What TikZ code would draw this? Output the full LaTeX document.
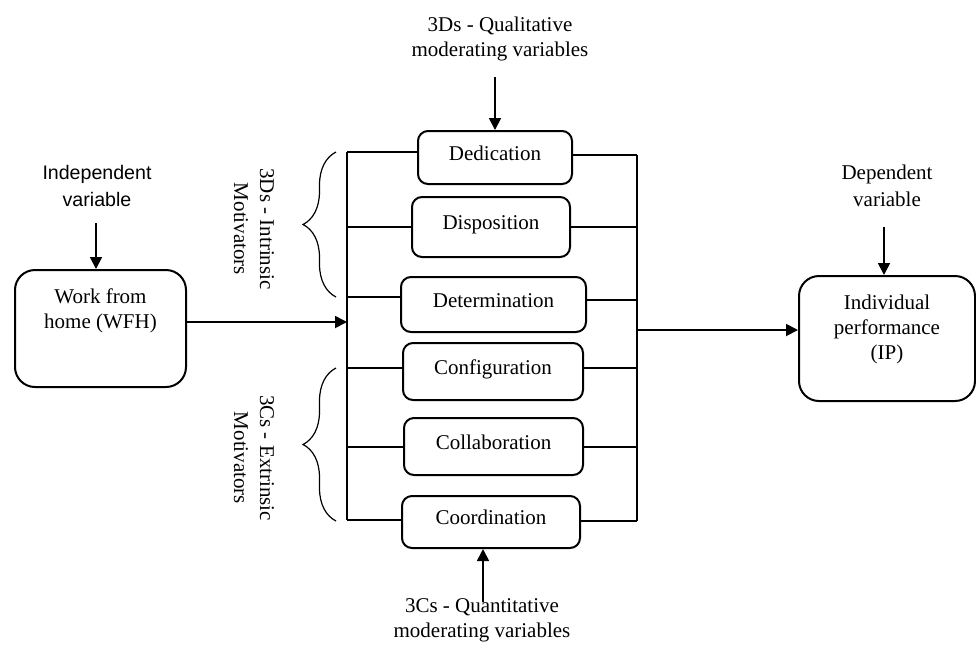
\documentclass[tikz,border=0pt]{standalone}
\usepackage{fontspec}
\setmainfont{Liberation Serif}
\newfontfamily\arialfont{Liberation Sans}
\usetikzlibrary{arrows.meta,decorations.pathreplacing}
\tikzset{
  box/.style={draw,line width=1pt,rounded corners=5pt,inner sep=0pt,
    text height=7.2pt,text depth=4.5pt,font=\fontsize{10.5}{12.6}\selectfont},
  bigbox/.style={draw,line width=1pt,rounded corners=10pt,inner sep=0pt},
  txt/.style={align=center,inner sep=0pt,font=\fontsize{10.5}{12.5}\selectfont},
  sidetxt/.style={align=center,inner sep=0pt,rotate=-90,font=\fontsize{10.5}{13}\selectfont},
  conn/.style={line width=0.9pt},
  arr/.style={line width=0.9pt,-{Triangle[length=6pt,width=6pt]}},
  brc/.style={line width=0.6pt,decorate,decoration={brace,amplitude=16.5pt}},
}
\begin{document}
\begin{tikzpicture}[x=0.5pt,y=-0.5pt]
\useasboundingbox (0,0) rectangle (976,645);

% central boxes
\node[box,minimum width=77pt,minimum height=26.5pt] (ded) at (495,157.5) {Dedication};
\node[box,minimum width=79pt,minimum height=30pt] (dis) at (491,227) {Disposition};
\node[box,minimum width=92.5pt,minimum height=27.5pt] (det) at (493.5,304.5) {Determination};
\node[box,minimum width=90pt,minimum height=28.5pt] (con) at (493,371.5) {Configuration};
\node[box,minimum width=89.5pt,minimum height=28.5pt] (col) at (493.5,446.5) {Collaboration};
\node[box,minimum width=89pt,minimum height=26pt] (coo) at (491,522) {Coordination};

% side boxes
\node[bigbox,minimum width=85.5pt,minimum height=58.5pt,
  label={[txt,anchor=north,yshift=-9.85pt]north:{Work from\\home (WFH)}}] (wfh) at (100.5,328.5) {};
\node[bigbox,minimum width=88pt,minimum height=62.5pt,
  label={[txt,anchor=north,yshift=-9.85pt]north:{Individual\\performance\\(IP)}}] (ip) at (887,338.5) {};

% free labels
\node[txt,anchor=north] (qual) at (500,17) {3Ds - Qualitative\\moderating variables};
\node[txt,anchor=north] (quan) at (482,598) {3Cs - Quantitative\\moderating variables};
\node[align=center,inner sep=0pt,anchor=north,font=\arialfont\fontsize{9.8}{13.5}\selectfont] (indep) at (97,165) {Independent\\variable};
\node[align=center,inner sep=0pt,anchor=north,font=\fontsize{10.5}{13.5}\selectfont] (dep) at (887,165) {Dependent\\variable};
\node[sidetxt] (intr) at (254,229) {3Ds - Intrinsic\\Motivators};
\node[sidetxt] (extr) at (254,458) {3Cs - Extrinsic\\Motivators};

% buses
\coordinate (lt) at (347,152);
\coordinate (lb) at (347,520);
\coordinate (rt) at (637,155);
\coordinate (rb) at (637,521);
\draw[conn] (lt) -- (lb);
\draw[conn] (rt) -- (rb);

% left branches
\draw[conn] (lt) -- (lt -| ded.west);
\draw[conn] (dis.west) -- (dis.west -| lt);
\draw[conn] ([yshift=3.75pt]det.west) coordinate (l3) -- (l3 -| lt);
\draw[conn] ([yshift=1.75pt]con.west) coordinate (l4) -- (l4 -| lt);
\draw[conn] ([yshift=-0.25pt]col.west) coordinate (l5) -- (l5 -| lt);
\draw[conn] (lb) -- (lb -| coo.west);

% right branches
\draw[conn] (rt) -- (rt -| ded.east);
\draw[conn] (dis.east) -- (dis.east -| rt);
\draw[conn] ([yshift=2.25pt]det.east) coordinate (r3) -- (r3 -| rt);
\draw[conn] ([yshift=1.75pt]con.east) coordinate (r4) -- (r4 -| rt);
\draw[conn] ([yshift=-0.25pt]col.east) coordinate (r5) -- (r5 -| rt);
\draw[conn] (rb) -- (rb -| coo.east);

% braces
\draw[brc] (336,297) -- (336,152);
\draw[brc] (336,521) -- (336,368);

% arrows
\draw[arr] ([yshift=3.25pt]wfh.east) coordinate (w) -- (w -| lt);
\coordinate (ro) at (637,330);
\draw[arr] (ro) -- (ro -| ip.west);
\coordinate (qa) at (495,77);
\draw[arr] (qa) -- (ded.north);
\coordinate (qb) at (483,602);
\draw[arr] (qb) -- (qb |- coo.south);
\coordinate (ia) at (96,223);
\draw[arr] (ia) -- (ia |- wfh.north);
\coordinate (da) at (884,227);
\draw[arr] (da) -- (da |- ip.north);
\end{tikzpicture}
\end{document}
